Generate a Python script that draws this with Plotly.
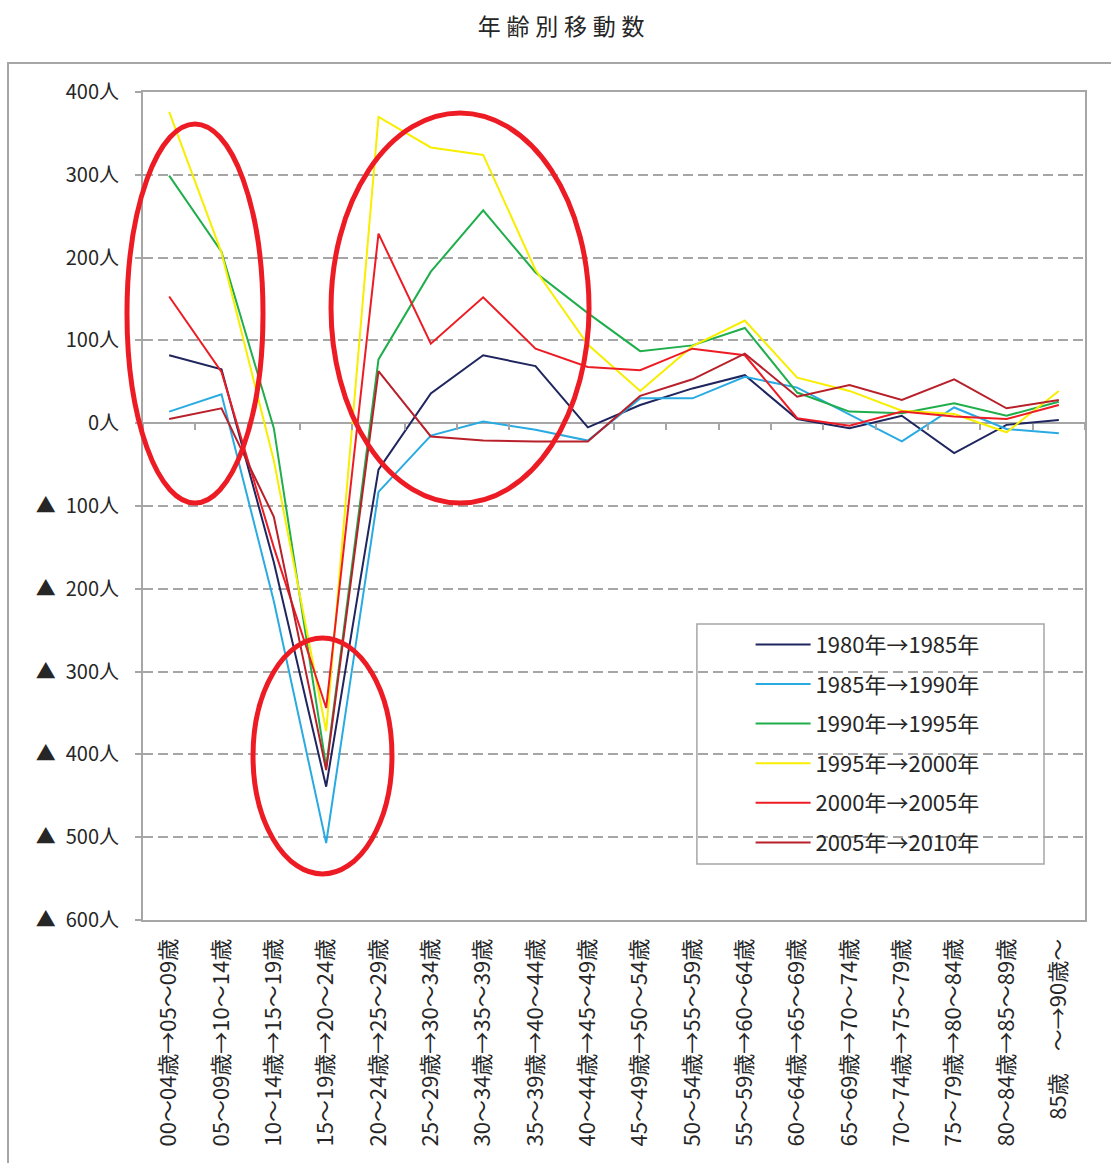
import plotly.graph_objects as go

# Age-band transitions (category axis)
categories = [
    "00～04歳→05～09歳", "05～09歳→10～14歳", "10～14歳→15～19歳",
    "15～19歳→20～24歳", "20～24歳→25～29歳", "25～29歳→30～34歳",
    "30～34歳→35～39歳", "35～39歳→40～44歳", "40～44歳→45～49歳",
    "45～49歳→50～54歳", "50～54歳→55～59歳", "55～59歳→60～64歳",
    "60～64歳→65～69歳", "65～69歳→70～74歳", "70～74歳→75～79歳",
    "75～79歳→80～84歳", "80～84歳→85～89歳", "85歳　～→90歳～",
]

# Net migration by period (persons)
s1980_1985 = [82, 65, -168, -439, -56, 36, 82, 69, -5, 22, 42, 58, 5, -6, 9, -36, -2, 4]
s1985_1990 = [14, 35, -215, -507, -83, -15, 2, -8, -21, 30, 30, 56, 43, 11, -22, 19, -7, -12]
s1990_1995 = [299, 207, -6, -415, 77, 183, 257, 182, 133, 87, 94, 115, 37, 14, 12, 24, 9, 26]
s1995_2000 = [376, 206, -45, -372, 370, 333, 324, 185, 95, 39, 93, 124, 55, 39, 15, 11, -11, 39]
s2000_2005 = [153, 62, -150, -344, 229, 96, 152, 90, 68, 64, 90, 82, 6, -3, 14, 8, 5, 22]
s2005_2010 = [5, 18, -113, -419, 63, -16, -21, -22, -22, 33, 53, 84, 32, 46, 28, 53, 18, 28]

series_names = [
    "1980年→1985年", "1985年→1990年", "1990年→1995年",
    "1995年→2000年", "2000年→2005年", "2005年→2010年",
]
series_values = [s1980_1985, s1985_1990, s1990_1995, s1995_2000, s2000_2005, s2005_2010]
series_colors = ["#1f255e", "#29abe2", "#1fae4b", "#f7ee00", "#ed1c24", "#b8202a"]

# Y tick values and labels (negatives marked with ▲)
y_ticks = [400, 300, 200, 100, 0, -100, -200, -300, -400, -500, -600]
y_tick_text = ["400人", "300人", "200人", "100人", "0人",
               "▲\u2002100人", "▲\u2002200人", "▲\u2002300人", "▲\u2002400人",
               "▲\u2002500人", "▲\u2002600人"]

FONT = "Noto Sans CJK JP"
GRID = "#a6a6a6"
TEXT = "#262626"

fig = go.Figure()
for i, (name, vals, col) in enumerate(zip(series_names, series_values, series_colors)):
    fig.add_trace(go.Scatter(
        x=categories, y=vals, name=name, mode="lines",
        line=dict(color=col, width=2), legendgroup=f"g{i}",
    ))

# helper trace so the zero-line tick axis shares the categories
fig.add_trace(go.Scatter(
    x=categories, y=[None] * len(categories), xaxis="x2", yaxis="y",
    showlegend=False, hoverinfo="skip", mode="lines",
))

# highlight ellipses (paper coordinates of the plot area)
ellipses = [
    (-0.017, 0.5036, 0.1274, 0.9614),
    (0.1996, 0.5036, 0.4735, 0.9746),
    (0.1168, 0.0556, 0.2643, 0.3406),
]
shapes = [
    # outer chart frame
    dict(type="rect", xref="paper", yref="paper", x0=-0.1433, x1=1.04, y0=-0.31, y1=1.035,
         line=dict(color="#a6a6a6", width=2), fillcolor="rgba(0,0,0,0)", layer="below"),
    # legend frame
    dict(type="rect", xref="paper", yref="paper", x0=0.588, x1=0.9565, y0=0.0676, y1=0.3575,
         line=dict(color="#a6a6a6", width=1.5), fillcolor="white", layer="below"),
]
for x0, y0, x1, y1 in ellipses:
    shapes.append(dict(type="circle", xref="paper", yref="paper", x0=x0, x1=x1, y0=y0, y1=y1,
                       line=dict(color="#ed1c24", width=5), fillcolor="rgba(0,0,0,0)"))

fig.update_layout(
    width=1111, height=1163,
    margin=dict(l=143, r=26, t=92, b=243),
    paper_bgcolor="white", plot_bgcolor="white",
    font=dict(family=FONT, color=TEXT),
    title=dict(text="年\u2005齢\u2005別\u2005移\u2005動\u2005数", x=0.505, xref="container",
               y=1 - 27 / 1163, yref="container", xanchor="center", yanchor="middle",
               font=dict(size=23, color=TEXT, family=FONT)),
    xaxis=dict(
        type="category", showgrid=False, showline=True, linecolor=GRID, linewidth=2,
        mirror=True, ticks="", tickangle=-90, ticklabelstandoff=8,
        tickfont=dict(size=22, color=TEXT, family=FONT),
        range=[-0.5, len(categories) - 0.5],
    ),
    xaxis2=dict(
        type="category", overlaying="x", matches="x", anchor="free", position=0.6,
        showline=False, showgrid=False, ticks="outside", tickson="boundaries",
        ticklen=6, tickwidth=1.5, tickcolor=GRID, showticklabels=False,
    ),
    yaxis=dict(
        range=[-600, 400], tickvals=y_ticks, ticktext=y_tick_text,
        showgrid=True, gridcolor=GRID, gridwidth=1.5, griddash="10px,5px",
        zeroline=True, zerolinecolor=GRID, zerolinewidth=2,
        showline=True, linecolor=GRID, linewidth=2, mirror=True,
        ticks="outside", ticklen=6, tickcolor=GRID, tickwidth=1.5,
        ticklabelstandoff=12, tickfont=dict(size=20, color=TEXT, family=FONT),
    ),
    legend=dict(
        x=0.645, y=0.358, xanchor="left", yanchor="top",
        bgcolor="rgba(0,0,0,0)", borderwidth=0,
        font=dict(size=22, color=TEXT, family=FONT),
        itemwidth=55, tracegroupgap=8,
    ),
    shapes=shapes,
    showlegend=True,
)

fig.write_html("out.html")
